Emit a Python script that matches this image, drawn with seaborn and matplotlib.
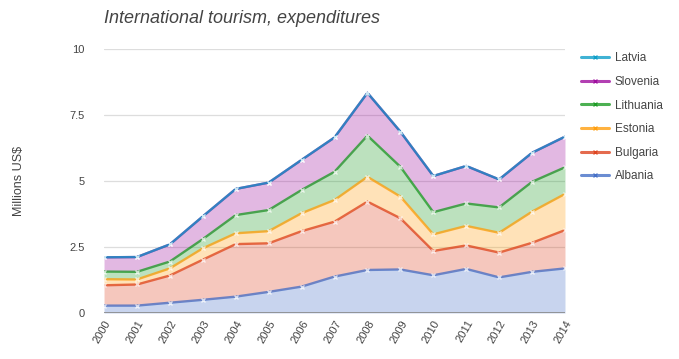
import numpy as np
import matplotlib
matplotlib.use("Agg")
import matplotlib.pyplot as plt
import seaborn as sns
from matplotlib.lines import Line2D

years = list(range(2000, 2015))

# International tourism expenditures, millions US$ (stacked bottom to top)
albania   = [0.28, 0.28, 0.39, 0.50, 0.62, 0.80, 1.00, 1.38, 1.63, 1.65, 1.43, 1.67, 1.35, 1.56, 1.69]
bulgaria  = [0.77, 0.80, 1.03, 1.52, 1.99, 1.84, 2.10, 2.08, 2.59, 1.94, 0.92, 0.89, 0.94, 1.10, 1.45]
estonia   = [0.23, 0.19, 0.27, 0.43, 0.41, 0.46, 0.68, 0.82, 0.94, 0.82, 0.63, 0.74, 0.75, 1.18, 1.37]
lithuania = [0.29, 0.29, 0.26, 0.35, 0.69, 0.80, 0.88, 1.07, 1.56, 1.13, 0.84, 0.85, 0.96, 1.13, 1.01]
slovenia  = [0.54, 0.56, 0.65, 0.86, 0.99, 1.04, 1.14, 1.30, 1.62, 1.33, 1.37, 1.42, 1.06, 1.10, 1.16]
latvia    = [0.00] * 15

series_names = ["Albania", "Bulgaria", "Estonia", "Lithuania", "Slovenia", "Latvia"]
series_vals = [albania, bulgaria, estonia, lithuania, slovenia, latvia]
colors = ["#3a67c4", "#dc3912", "#ff9900", "#109618", "#990099", "#0099c6"]

title = "International tourism, expenditures"
ylabel = "Millions US$"
yticks = [0, 2.5, 5, 7.5, 10]
ytick_labels = ["0", "2.5", "5", "7.5", "10"]

sns.set_theme(style="white")
plt.rcParams["font.family"] = ["Liberation Sans", "DejaVu Sans"]

fig = plt.figure(figsize=(6.79, 3.59), dpi=100)
ax = fig.add_axes([0.1532, 0.1281, 0.6789, 0.7354])

x = np.array(years)
base = np.zeros(len(years))
for name, vals, col in zip(series_names, series_vals, colors):
    top = base + np.array(vals)
    ax.fill_between(x, base, top, color=col, alpha=0.28, linewidth=0, zorder=1)
    base = top

# lines drawn after all fills so each boundary stays visible
base = np.zeros(len(years))
for name, vals, col in zip(series_names, series_vals, colors):
    top = base + np.array(vals)
    sns.lineplot(x=x, y=top, ax=ax, color=col, linewidth=1.7, marker="x",
                 markersize=3.5, markeredgewidth=1.0, alpha=0.72, zorder=3)
    base = top

ax.set_xlim(2000, 2014)
ax.set_ylim(0, 10)
ax.set_yticks(yticks)
ax.set_yticklabels(ytick_labels)
ax.set_xticks(years)
ax.set_xticklabels([str(y) for y in years], rotation=60, ha="right",
                   rotation_mode="anchor")
ax.tick_params(axis="y", labelsize=8, colors="#444444", length=0, pad=14)
ax.tick_params(axis="x", labelsize=8, colors="#444444", length=0, pad=4)

ax.grid(axis="y", color="#dddddd", linewidth=0.9, zorder=0)
ax.set_axisbelow(True)
for s in ax.spines.values():
    s.set_visible(False)
ax.axhline(0, color="#888888", linewidth=1.2, zorder=4)

ax.set_ylabel(ylabel, fontsize=9, color="#444444", labelpad=32)
fig.text(0.1532, 0.948, title, fontsize=13, style="italic", color="#444444",
         ha="left", va="center")

handles = [Line2D([0], [0], color=c, linewidth=2.2, marker="x", markersize=3.5,
                  markeredgewidth=1.0, alpha=0.75)
           for c in colors]
leg = fig.legend(handles[::-1], series_names[::-1], loc="upper left",
                 bbox_to_anchor=(0.848, 0.867), frameon=False, fontsize=8.5,
                 handlelength=2.4, handletextpad=0.5, labelspacing=0.98,
                 borderaxespad=0)
for t in leg.get_texts():
    t.set_color("#444444")

fig.savefig("out.png", dpi=100)
